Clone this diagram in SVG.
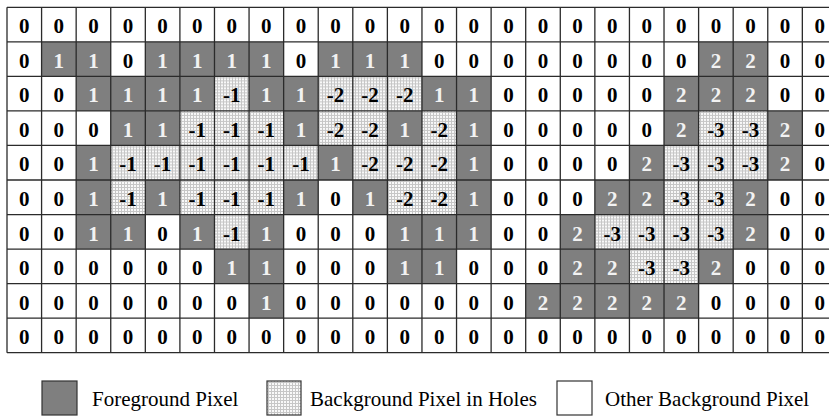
<svg xmlns="http://www.w3.org/2000/svg" width="829" height="416" viewBox="0 0 829 416">
<defs>
<pattern id="dots" width="3" height="3" patternUnits="userSpaceOnUse">
<rect width="3" height="3" fill="#f8f8f8"/>
<rect y="1" width="3" height="1" fill="#c6c6c6"/>
<rect x="1" width="1" height="3" fill="#c6c6c6"/>
</pattern>
</defs>
<style>
.fg{fill:#7f7f7f}
.h{fill:url(#dots)}
text{font-family:"Liberation Serif","Times New Roman",serif;font-size:21px;text-anchor:middle}
.cell text{font-weight:bold;fill:#000}
.cell text.w{fill:#f2f2f2}
.grid{stroke:#2b2b2b;stroke-width:1.3;fill:none}
.legbox{stroke:#333;stroke-width:1.2}
.leg{text-anchor:start;fill:#000}
</style>
<rect width="829" height="416" fill="#fff"/>
<g id="grid-cells" class="cell">
<g id="row0" transform="translate(0,7.3)">
<text x="24.29" y="26">0</text><text x="58.87" y="26">0</text><text x="93.45" y="26">0</text><text x="128.03" y="26">0</text><text x="162.61" y="26">0</text><text x="197.19" y="26">0</text><text x="231.77" y="26">0</text><text x="266.35" y="26">0</text><text x="300.93" y="26">0</text><text x="335.51" y="26">0</text><text x="370.09" y="26">0</text><text x="404.67" y="26">0</text><text x="439.25" y="26">0</text><text x="473.83" y="26">0</text><text x="508.41" y="26">0</text><text x="542.99" y="26">0</text><text x="577.57" y="26">0</text><text x="612.15" y="26">0</text><text x="646.73" y="26">0</text><text x="681.31" y="26">0</text><text x="715.89" y="26">0</text><text x="750.47" y="26">0</text><text x="785.05" y="26">0</text><text x="819.63" y="26">0</text>
</g>
<g id="row1" transform="translate(0,41.84)">
<rect class="fg" x="41.58" width="69.16" height="34.54"/><rect class="fg" x="145.32" width="138.32" height="34.54"/><rect class="fg" x="318.22" width="103.74" height="34.54"/><rect class="fg" x="698.6" width="69.16" height="34.54"/>
<text x="24.29" y="26">0</text><text class="w" x="58.87" y="26">1</text><text class="w" x="93.45" y="26">1</text><text x="128.03" y="26">0</text><text class="w" x="162.61" y="26">1</text><text class="w" x="197.19" y="26">1</text><text class="w" x="231.77" y="26">1</text><text class="w" x="266.35" y="26">1</text><text x="300.93" y="26">0</text><text class="w" x="335.51" y="26">1</text><text class="w" x="370.09" y="26">1</text><text class="w" x="404.67" y="26">1</text><text x="439.25" y="26">0</text><text x="473.83" y="26">0</text><text x="508.41" y="26">0</text><text x="542.99" y="26">0</text><text x="577.57" y="26">0</text><text x="612.15" y="26">0</text><text x="646.73" y="26">0</text><text x="681.31" y="26">0</text><text class="w" x="715.89" y="26">2</text><text class="w" x="750.47" y="26">2</text><text x="785.05" y="26">0</text><text x="819.63" y="26">0</text>
</g>
<g id="row2" transform="translate(0,76.38)">
<rect class="fg" x="76.16" width="138.32" height="34.54"/><rect class="fg" x="249.06" width="69.16" height="34.54"/><rect class="fg" x="421.96" width="69.16" height="34.54"/><rect class="fg" x="664.02" width="103.74" height="34.54"/>
<rect class="h" x="214.48" width="34.58" height="34.54"/><rect class="h" x="318.22" width="103.74" height="34.54"/>
<text x="24.29" y="26">0</text><text x="58.87" y="26">0</text><text class="w" x="93.45" y="26">1</text><text class="w" x="128.03" y="26">1</text><text class="w" x="162.61" y="26">1</text><text class="w" x="197.19" y="26">1</text><text x="231.77" y="26">-1</text><text class="w" x="266.35" y="26">1</text><text class="w" x="300.93" y="26">1</text><text x="335.51" y="26">-2</text><text x="370.09" y="26">-2</text><text x="404.67" y="26">-2</text><text class="w" x="439.25" y="26">1</text><text class="w" x="473.83" y="26">1</text><text x="508.41" y="26">0</text><text x="542.99" y="26">0</text><text x="577.57" y="26">0</text><text x="612.15" y="26">0</text><text x="646.73" y="26">0</text><text class="w" x="681.31" y="26">2</text><text class="w" x="715.89" y="26">2</text><text class="w" x="750.47" y="26">2</text><text x="785.05" y="26">0</text><text x="819.63" y="26">0</text>
</g>
<g id="row3" transform="translate(0,110.92)">
<rect class="fg" x="110.74" width="69.16" height="34.54"/><rect class="fg" x="283.64" width="34.58" height="34.54"/><rect class="fg" x="387.38" width="34.58" height="34.54"/><rect class="fg" x="456.54" width="34.58" height="34.54"/><rect class="fg" x="664.02" width="34.58" height="34.54"/><rect class="fg" x="767.76" width="34.58" height="34.54"/>
<rect class="h" x="179.9" width="103.74" height="34.54"/><rect class="h" x="318.22" width="69.16" height="34.54"/><rect class="h" x="421.96" width="34.58" height="34.54"/><rect class="h" x="698.6" width="69.16" height="34.54"/>
<text x="24.29" y="26">0</text><text x="58.87" y="26">0</text><text x="93.45" y="26">0</text><text class="w" x="128.03" y="26">1</text><text class="w" x="162.61" y="26">1</text><text x="197.19" y="26">-1</text><text x="231.77" y="26">-1</text><text x="266.35" y="26">-1</text><text class="w" x="300.93" y="26">1</text><text x="335.51" y="26">-2</text><text x="370.09" y="26">-2</text><text class="w" x="404.67" y="26">1</text><text x="439.25" y="26">-2</text><text class="w" x="473.83" y="26">1</text><text x="508.41" y="26">0</text><text x="542.99" y="26">0</text><text x="577.57" y="26">0</text><text x="612.15" y="26">0</text><text x="646.73" y="26">0</text><text class="w" x="681.31" y="26">2</text><text x="715.89" y="26">-3</text><text x="750.47" y="26">-3</text><text class="w" x="785.05" y="26">2</text><text x="819.63" y="26">0</text>
</g>
<g id="row4" transform="translate(0,145.46)">
<rect class="fg" x="76.16" width="34.58" height="34.54"/><rect class="fg" x="318.22" width="34.58" height="34.54"/><rect class="fg" x="456.54" width="34.58" height="34.54"/><rect class="fg" x="629.44" width="34.58" height="34.54"/><rect class="fg" x="767.76" width="34.58" height="34.54"/>
<rect class="h" x="110.74" width="207.48" height="34.54"/><rect class="h" x="352.8" width="103.74" height="34.54"/><rect class="h" x="664.02" width="103.74" height="34.54"/>
<text x="24.29" y="26">0</text><text x="58.87" y="26">0</text><text class="w" x="93.45" y="26">1</text><text x="128.03" y="26">-1</text><text x="162.61" y="26">-1</text><text x="197.19" y="26">-1</text><text x="231.77" y="26">-1</text><text x="266.35" y="26">-1</text><text x="300.93" y="26">-1</text><text class="w" x="335.51" y="26">1</text><text x="370.09" y="26">-2</text><text x="404.67" y="26">-2</text><text x="439.25" y="26">-2</text><text class="w" x="473.83" y="26">1</text><text x="508.41" y="26">0</text><text x="542.99" y="26">0</text><text x="577.57" y="26">0</text><text x="612.15" y="26">0</text><text class="w" x="646.73" y="26">2</text><text x="681.31" y="26">-3</text><text x="715.89" y="26">-3</text><text x="750.47" y="26">-3</text><text class="w" x="785.05" y="26">2</text><text x="819.63" y="26">0</text>
</g>
<g id="row5" transform="translate(0,180)">
<rect class="fg" x="76.16" width="34.58" height="34.54"/><rect class="fg" x="145.32" width="34.58" height="34.54"/><rect class="fg" x="283.64" width="34.58" height="34.54"/><rect class="fg" x="352.8" width="34.58" height="34.54"/><rect class="fg" x="456.54" width="34.58" height="34.54"/><rect class="fg" x="594.86" width="69.16" height="34.54"/><rect class="fg" x="733.18" width="34.58" height="34.54"/>
<rect class="h" x="110.74" width="34.58" height="34.54"/><rect class="h" x="179.9" width="103.74" height="34.54"/><rect class="h" x="387.38" width="69.16" height="34.54"/><rect class="h" x="664.02" width="69.16" height="34.54"/>
<text x="24.29" y="26">0</text><text x="58.87" y="26">0</text><text class="w" x="93.45" y="26">1</text><text x="128.03" y="26">-1</text><text class="w" x="162.61" y="26">1</text><text x="197.19" y="26">-1</text><text x="231.77" y="26">-1</text><text x="266.35" y="26">-1</text><text class="w" x="300.93" y="26">1</text><text x="335.51" y="26">0</text><text class="w" x="370.09" y="26">1</text><text x="404.67" y="26">-2</text><text x="439.25" y="26">-2</text><text class="w" x="473.83" y="26">1</text><text x="508.41" y="26">0</text><text x="542.99" y="26">0</text><text x="577.57" y="26">0</text><text class="w" x="612.15" y="26">2</text><text class="w" x="646.73" y="26">2</text><text x="681.31" y="26">-3</text><text x="715.89" y="26">-3</text><text class="w" x="750.47" y="26">2</text><text x="785.05" y="26">0</text><text x="819.63" y="26">0</text>
</g>
<g id="row6" transform="translate(0,214.54)">
<rect class="fg" x="76.16" width="69.16" height="34.54"/><rect class="fg" x="179.9" width="34.58" height="34.54"/><rect class="fg" x="249.06" width="34.58" height="34.54"/><rect class="fg" x="387.38" width="103.74" height="34.54"/><rect class="fg" x="560.28" width="34.58" height="34.54"/><rect class="fg" x="733.18" width="34.58" height="34.54"/>
<rect class="h" x="214.48" width="34.58" height="34.54"/><rect class="h" x="594.86" width="138.32" height="34.54"/>
<text x="24.29" y="26">0</text><text x="58.87" y="26">0</text><text class="w" x="93.45" y="26">1</text><text class="w" x="128.03" y="26">1</text><text x="162.61" y="26">0</text><text class="w" x="197.19" y="26">1</text><text x="231.77" y="26">-1</text><text class="w" x="266.35" y="26">1</text><text x="300.93" y="26">0</text><text x="335.51" y="26">0</text><text x="370.09" y="26">0</text><text class="w" x="404.67" y="26">1</text><text class="w" x="439.25" y="26">1</text><text class="w" x="473.83" y="26">1</text><text x="508.41" y="26">0</text><text x="542.99" y="26">0</text><text class="w" x="577.57" y="26">2</text><text x="612.15" y="26">-3</text><text x="646.73" y="26">-3</text><text x="681.31" y="26">-3</text><text x="715.89" y="26">-3</text><text class="w" x="750.47" y="26">2</text><text x="785.05" y="26">0</text><text x="819.63" y="26">0</text>
</g>
<g id="row7" transform="translate(0,249.08)">
<rect class="fg" x="214.48" width="69.16" height="34.54"/><rect class="fg" x="387.38" width="69.16" height="34.54"/><rect class="fg" x="560.28" width="69.16" height="34.54"/><rect class="fg" x="698.6" width="34.58" height="34.54"/>
<rect class="h" x="629.44" width="69.16" height="34.54"/>
<text x="24.29" y="26">0</text><text x="58.87" y="26">0</text><text x="93.45" y="26">0</text><text x="128.03" y="26">0</text><text x="162.61" y="26">0</text><text x="197.19" y="26">0</text><text class="w" x="231.77" y="26">1</text><text class="w" x="266.35" y="26">1</text><text x="300.93" y="26">0</text><text x="335.51" y="26">0</text><text x="370.09" y="26">0</text><text class="w" x="404.67" y="26">1</text><text class="w" x="439.25" y="26">1</text><text x="473.83" y="26">0</text><text x="508.41" y="26">0</text><text x="542.99" y="26">0</text><text class="w" x="577.57" y="26">2</text><text class="w" x="612.15" y="26">2</text><text x="646.73" y="26">-3</text><text x="681.31" y="26">-3</text><text class="w" x="715.89" y="26">2</text><text x="750.47" y="26">0</text><text x="785.05" y="26">0</text><text x="819.63" y="26">0</text>
</g>
<g id="row8" transform="translate(0,283.62)">
<rect class="fg" x="249.06" width="34.58" height="34.54"/><rect class="fg" x="525.7" width="172.9" height="34.54"/>
<text x="24.29" y="26">0</text><text x="58.87" y="26">0</text><text x="93.45" y="26">0</text><text x="128.03" y="26">0</text><text x="162.61" y="26">0</text><text x="197.19" y="26">0</text><text x="231.77" y="26">0</text><text class="w" x="266.35" y="26">1</text><text x="300.93" y="26">0</text><text x="335.51" y="26">0</text><text x="370.09" y="26">0</text><text x="404.67" y="26">0</text><text x="439.25" y="26">0</text><text x="473.83" y="26">0</text><text x="508.41" y="26">0</text><text class="w" x="542.99" y="26">2</text><text class="w" x="577.57" y="26">2</text><text class="w" x="612.15" y="26">2</text><text class="w" x="646.73" y="26">2</text><text class="w" x="681.31" y="26">2</text><text x="715.89" y="26">0</text><text x="750.47" y="26">0</text><text x="785.05" y="26">0</text><text x="819.63" y="26">0</text>
</g>
<g id="row9" transform="translate(0,318.16)">
<text x="24.29" y="26">0</text><text x="58.87" y="26">0</text><text x="93.45" y="26">0</text><text x="128.03" y="26">0</text><text x="162.61" y="26">0</text><text x="197.19" y="26">0</text><text x="231.77" y="26">0</text><text x="266.35" y="26">0</text><text x="300.93" y="26">0</text><text x="335.51" y="26">0</text><text x="370.09" y="26">0</text><text x="404.67" y="26">0</text><text x="439.25" y="26">0</text><text x="473.83" y="26">0</text><text x="508.41" y="26">0</text><text x="542.99" y="26">0</text><text x="577.57" y="26">0</text><text x="612.15" y="26">0</text><text x="646.73" y="26">0</text><text x="681.31" y="26">0</text><text x="715.89" y="26">0</text><text x="750.47" y="26">0</text><text x="785.05" y="26">0</text><text x="819.63" y="26">0</text>
</g>
</g>
<g id="grid-lines" class="grid">
<path d="M7 7.3V352.7M41.58 7.3V352.7M76.16 7.3V352.7M110.74 7.3V352.7M145.32 7.3V352.7M179.9 7.3V352.7M214.48 7.3V352.7M249.06 7.3V352.7M283.64 7.3V352.7M318.22 7.3V352.7M352.8 7.3V352.7M387.38 7.3V352.7M421.96 7.3V352.7M456.54 7.3V352.7M491.12 7.3V352.7M525.7 7.3V352.7M560.28 7.3V352.7M594.86 7.3V352.7M629.44 7.3V352.7M664.02 7.3V352.7M698.6 7.3V352.7M733.18 7.3V352.7M767.76 7.3V352.7M802.34 7.3V352.7"/>
<path d="M7 7.3H829M7 41.84H829M7 76.38H829M7 110.92H829M7 145.46H829M7 180H829M7 214.54H829M7 249.08H829M7 283.62H829M7 318.16H829M7 352.7H829"/>
</g>
<g id="legend">
<g id="legend-foreground">
<rect class="fg legbox" x="42" y="381" width="35" height="34"/>
<text class="leg" x="92" y="406">Foreground Pixel</text>
</g>
<g id="legend-holes">
<rect class="h legbox" x="267" y="381" width="34" height="34"/>
<text class="leg" x="310" y="406">Background Pixel in Holes</text>
</g>
<g id="legend-other">
<rect class="legbox" fill="#fff" x="557" y="381" width="35" height="34"/>
<text class="leg" x="605" y="406">Other Background Pixel</text>
</g>
</g>
</svg>
